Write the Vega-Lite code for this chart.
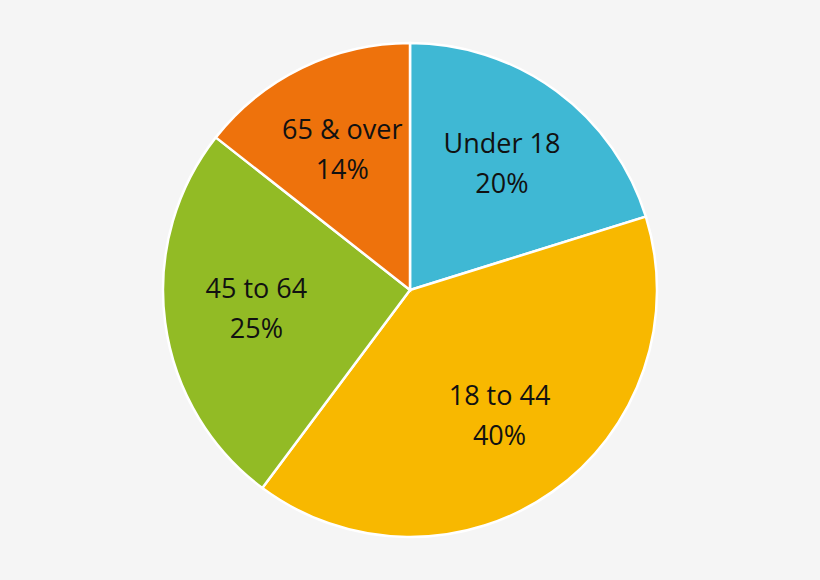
{
  "$schema": "https://vega.github.io/schema/vega-lite/v6.json",
  "width": 820,
  "height": 580,
  "autosize": {"type": "fit", "contains": "padding"},
  "padding": 0,
  "background": "#f5f5f5",
  "view": {"stroke": null},
  "data": {
    "values": [
      {"group": "Under 18", "share": 20.2, "rank": 1},
      {"group": "18 to 44", "share": 40.0, "rank": 2},
      {"group": "45 to 64", "share": 25.4, "rank": 3},
      {"group": "65 & over", "share": 14.4, "rank": 4}
    ]
  },
  "transform": [
    {"calculate": "[datum.group, format(datum.share / 100, '.0%')]", "as": "label"}
  ],
  "encoding": {
    "theta": {"field": "share", "type": "quantitative", "stack": true},
    "order": {"field": "rank", "type": "quantitative"}
  },
  "layer": [
    {
      "mark": {"type": "arc", "outerRadius": 247, "stroke": "white", "strokeWidth": 2.5},
      "encoding": {
        "color": {
          "field": "group",
          "type": "nominal",
          "scale": {
            "domain": ["Under 18", "18 to 44", "45 to 64", "65 & over"],
            "range": ["#3fb8d4", "#f8b800", "#92bb25", "#ee720c"]
          },
          "legend": null
        }
      }
    },
    {
      "mark": {
        "type": "text",
        "radius": 155,
        "dy": -20,
        "font": "Open Sans",
        "fontSize": 27,
        "lineHeight": 40,
        "color": "#111111",
        "align": "center",
        "baseline": "middle"
      },
      "encoding": {
        "text": {"field": "label"}
      }
    }
  ]
}
